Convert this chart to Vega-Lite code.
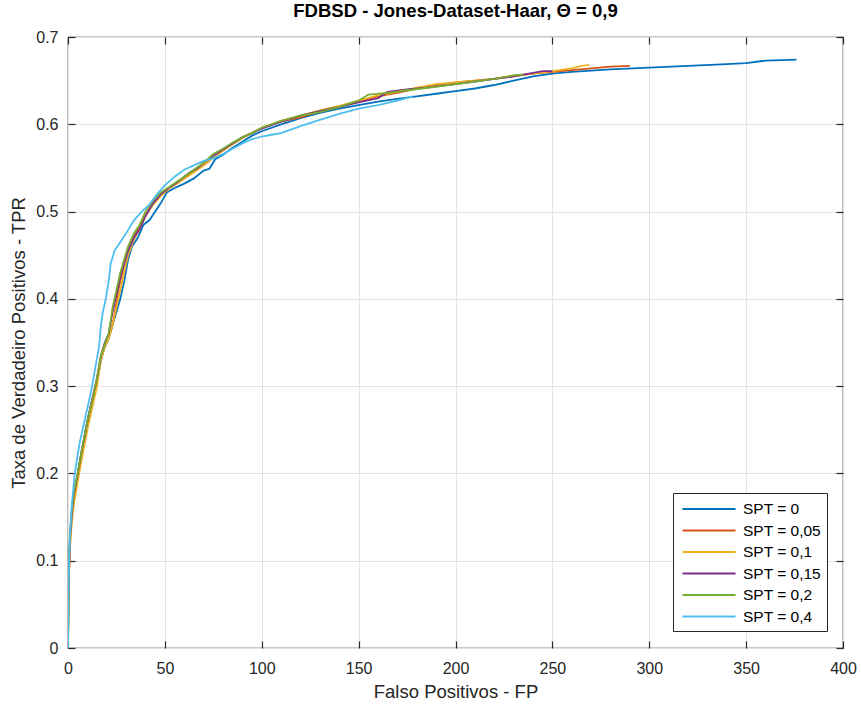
{
  "$schema": "https://vega.github.io/schema/vega-lite/v6.json",
  "width": 775,
  "height": 611,
  "autosize": "none",
  "padding": {"left": 68, "top": 37, "right": 18, "bottom": 56},
  "background": "white",
  "title": {"text": "FDBSD - Jones-Dataset-Haar, Θ = 0,9", "font": "Liberation Sans", "fontSize": 18.5, "fontWeight": "bold", "color": "#000000", "anchor": "middle", "offset": 9},
  "config": {
    "view": {"stroke": "#262626", "strokeWidth": 1.2},
    "axis": {"domain": false, "tickColor": "#262626", "tickWidth": 1.2, "labelColor": "#262626", "titleColor": "#262626", "gridColor": "#e3e3e3", "gridWidth": 1, "labelFont": "Liberation Sans", "titleFont": "Liberation Sans", "labelFontSize": 16, "titleFontSize": 18.5, "titleFontWeight": "normal", "labelOverlap": false, "labelFlush": false}
  },
  "data": {"values": [
    {"s":"SPT = 0","fp":0,"tpr":0},{"s":"SPT = 0","fp":0.3,"tpr":0.07},{"s":"SPT = 0","fp":1,"tpr":0.125},{"s":"SPT = 0","fp":2,"tpr":0.155},{"s":"SPT = 0","fp":3,"tpr":0.175},{"s":"SPT = 0","fp":5,"tpr":0.198},{"s":"SPT = 0","fp":7,"tpr":0.225},{"s":"SPT = 0","fp":10,"tpr":0.26},{"s":"SPT = 0","fp":12,"tpr":0.28},{"s":"SPT = 0","fp":15,"tpr":0.305},{"s":"SPT = 0","fp":17,"tpr":0.33},{"s":"SPT = 0","fp":19,"tpr":0.345},{"s":"SPT = 0","fp":21,"tpr":0.355},{"s":"SPT = 0","fp":23,"tpr":0.37},{"s":"SPT = 0","fp":25,"tpr":0.385},{"s":"SPT = 0","fp":27,"tpr":0.4},{"s":"SPT = 0","fp":29,"tpr":0.42},{"s":"SPT = 0","fp":31,"tpr":0.445},{"s":"SPT = 0","fp":33,"tpr":0.46},{"s":"SPT = 0","fp":36,"tpr":0.47},{"s":"SPT = 0","fp":39,"tpr":0.485},{"s":"SPT = 0","fp":42,"tpr":0.49},{"s":"SPT = 0","fp":45,"tpr":0.5},{"s":"SPT = 0","fp":48,"tpr":0.51},{"s":"SPT = 0","fp":51,"tpr":0.522},{"s":"SPT = 0","fp":55,"tpr":0.527},{"s":"SPT = 0","fp":60,"tpr":0.532},{"s":"SPT = 0","fp":65,"tpr":0.538},{"s":"SPT = 0","fp":70,"tpr":0.547},{"s":"SPT = 0","fp":73,"tpr":0.549},{"s":"SPT = 0","fp":76,"tpr":0.56},{"s":"SPT = 0","fp":80,"tpr":0.565},{"s":"SPT = 0","fp":85,"tpr":0.573},{"s":"SPT = 0","fp":90,"tpr":0.58},{"s":"SPT = 0","fp":95,"tpr":0.587},{"s":"SPT = 0","fp":100,"tpr":0.592},{"s":"SPT = 0","fp":110,"tpr":0.6},{"s":"SPT = 0","fp":120,"tpr":0.607},{"s":"SPT = 0","fp":130,"tpr":0.613},{"s":"SPT = 0","fp":140,"tpr":0.618},{"s":"SPT = 0","fp":150,"tpr":0.622},{"s":"SPT = 0","fp":160,"tpr":0.626},{"s":"SPT = 0","fp":170,"tpr":0.629},{"s":"SPT = 0","fp":180,"tpr":0.632},{"s":"SPT = 0","fp":190,"tpr":0.635},{"s":"SPT = 0","fp":200,"tpr":0.638},{"s":"SPT = 0","fp":210,"tpr":0.641},{"s":"SPT = 0","fp":220,"tpr":0.645},{"s":"SPT = 0","fp":230,"tpr":0.65},{"s":"SPT = 0","fp":240,"tpr":0.655},{"s":"SPT = 0","fp":250,"tpr":0.658},{"s":"SPT = 0","fp":260,"tpr":0.66},{"s":"SPT = 0","fp":280,"tpr":0.663},{"s":"SPT = 0","fp":300,"tpr":0.665},{"s":"SPT = 0","fp":320,"tpr":0.667},{"s":"SPT = 0","fp":340,"tpr":0.669},{"s":"SPT = 0","fp":350,"tpr":0.67},{"s":"SPT = 0","fp":360,"tpr":0.673},{"s":"SPT = 0","fp":376,"tpr":0.674},

    {"s":"SPT = 0,05","fp":0,"tpr":0},{"s":"SPT = 0,05","fp":0.3,"tpr":0.07},{"s":"SPT = 0,05","fp":1,"tpr":0.12},{"s":"SPT = 0,05","fp":2,"tpr":0.15},{"s":"SPT = 0,05","fp":3,"tpr":0.17},{"s":"SPT = 0,05","fp":5,"tpr":0.195},{"s":"SPT = 0,05","fp":7,"tpr":0.22},{"s":"SPT = 0,05","fp":10,"tpr":0.255},{"s":"SPT = 0,05","fp":13,"tpr":0.285},{"s":"SPT = 0,05","fp":15,"tpr":0.305},{"s":"SPT = 0,05","fp":17,"tpr":0.335},{"s":"SPT = 0,05","fp":19,"tpr":0.345},{"s":"SPT = 0,05","fp":21,"tpr":0.355},{"s":"SPT = 0,05","fp":23,"tpr":0.37},{"s":"SPT = 0,05","fp":25,"tpr":0.395},{"s":"SPT = 0,05","fp":26,"tpr":0.41},{"s":"SPT = 0,05","fp":28,"tpr":0.43},{"s":"SPT = 0,05","fp":30,"tpr":0.45},{"s":"SPT = 0,05","fp":33,"tpr":0.465},{"s":"SPT = 0,05","fp":36,"tpr":0.48},{"s":"SPT = 0,05","fp":40,"tpr":0.495},{"s":"SPT = 0,05","fp":44,"tpr":0.51},{"s":"SPT = 0,05","fp":48,"tpr":0.52},{"s":"SPT = 0,05","fp":52,"tpr":0.527},{"s":"SPT = 0,05","fp":56,"tpr":0.532},{"s":"SPT = 0,05","fp":60,"tpr":0.538},{"s":"SPT = 0,05","fp":65,"tpr":0.546},{"s":"SPT = 0,05","fp":70,"tpr":0.553},{"s":"SPT = 0,05","fp":75,"tpr":0.562},{"s":"SPT = 0,05","fp":80,"tpr":0.57},{"s":"SPT = 0,05","fp":85,"tpr":0.578},{"s":"SPT = 0,05","fp":90,"tpr":0.585},{"s":"SPT = 0,05","fp":95,"tpr":0.59},{"s":"SPT = 0,05","fp":100,"tpr":0.596},{"s":"SPT = 0,05","fp":110,"tpr":0.603},{"s":"SPT = 0,05","fp":120,"tpr":0.608},{"s":"SPT = 0,05","fp":130,"tpr":0.615},{"s":"SPT = 0,05","fp":140,"tpr":0.62},{"s":"SPT = 0,05","fp":150,"tpr":0.626},{"s":"SPT = 0,05","fp":160,"tpr":0.632},{"s":"SPT = 0,05","fp":170,"tpr":0.636},{"s":"SPT = 0,05","fp":180,"tpr":0.641},{"s":"SPT = 0,05","fp":190,"tpr":0.645},{"s":"SPT = 0,05","fp":200,"tpr":0.648},{"s":"SPT = 0,05","fp":210,"tpr":0.65},{"s":"SPT = 0,05","fp":220,"tpr":0.652},{"s":"SPT = 0,05","fp":230,"tpr":0.655},{"s":"SPT = 0,05","fp":240,"tpr":0.658},{"s":"SPT = 0,05","fp":250,"tpr":0.66},{"s":"SPT = 0,05","fp":260,"tpr":0.662},{"s":"SPT = 0,05","fp":270,"tpr":0.664},{"s":"SPT = 0,05","fp":280,"tpr":0.666},{"s":"SPT = 0,05","fp":290,"tpr":0.667},

    {"s":"SPT = 0,1","fp":0,"tpr":0},{"s":"SPT = 0,1","fp":0.3,"tpr":0.065},{"s":"SPT = 0,1","fp":1,"tpr":0.115},{"s":"SPT = 0,1","fp":2,"tpr":0.145},{"s":"SPT = 0,1","fp":3,"tpr":0.165},{"s":"SPT = 0,1","fp":5,"tpr":0.19},{"s":"SPT = 0,1","fp":7,"tpr":0.215},{"s":"SPT = 0,1","fp":10,"tpr":0.25},{"s":"SPT = 0,1","fp":13,"tpr":0.28},{"s":"SPT = 0,1","fp":15,"tpr":0.3},{"s":"SPT = 0,1","fp":17,"tpr":0.33},{"s":"SPT = 0,1","fp":19,"tpr":0.345},{"s":"SPT = 0,1","fp":21,"tpr":0.355},{"s":"SPT = 0,1","fp":23,"tpr":0.37},{"s":"SPT = 0,1","fp":25,"tpr":0.39},{"s":"SPT = 0,1","fp":27,"tpr":0.41},{"s":"SPT = 0,1","fp":29,"tpr":0.43},{"s":"SPT = 0,1","fp":31,"tpr":0.45},{"s":"SPT = 0,1","fp":34,"tpr":0.468},{"s":"SPT = 0,1","fp":37,"tpr":0.48},{"s":"SPT = 0,1","fp":40,"tpr":0.495},{"s":"SPT = 0,1","fp":44,"tpr":0.508},{"s":"SPT = 0,1","fp":48,"tpr":0.518},{"s":"SPT = 0,1","fp":52,"tpr":0.526},{"s":"SPT = 0,1","fp":56,"tpr":0.532},{"s":"SPT = 0,1","fp":60,"tpr":0.538},{"s":"SPT = 0,1","fp":65,"tpr":0.545},{"s":"SPT = 0,1","fp":70,"tpr":0.553},{"s":"SPT = 0,1","fp":75,"tpr":0.562},{"s":"SPT = 0,1","fp":80,"tpr":0.57},{"s":"SPT = 0,1","fp":85,"tpr":0.577},{"s":"SPT = 0,1","fp":90,"tpr":0.584},{"s":"SPT = 0,1","fp":95,"tpr":0.59},{"s":"SPT = 0,1","fp":100,"tpr":0.596},{"s":"SPT = 0,1","fp":110,"tpr":0.604},{"s":"SPT = 0,1","fp":120,"tpr":0.61},{"s":"SPT = 0,1","fp":130,"tpr":0.616},{"s":"SPT = 0,1","fp":140,"tpr":0.621},{"s":"SPT = 0,1","fp":150,"tpr":0.627},{"s":"SPT = 0,1","fp":160,"tpr":0.633},{"s":"SPT = 0,1","fp":170,"tpr":0.637},{"s":"SPT = 0,1","fp":180,"tpr":0.642},{"s":"SPT = 0,1","fp":190,"tpr":0.646},{"s":"SPT = 0,1","fp":200,"tpr":0.648},{"s":"SPT = 0,1","fp":210,"tpr":0.65},{"s":"SPT = 0,1","fp":220,"tpr":0.652},{"s":"SPT = 0,1","fp":230,"tpr":0.656},{"s":"SPT = 0,1","fp":240,"tpr":0.658},{"s":"SPT = 0,1","fp":250,"tpr":0.661},{"s":"SPT = 0,1","fp":260,"tpr":0.664},{"s":"SPT = 0,1","fp":265,"tpr":0.667},{"s":"SPT = 0,1","fp":269,"tpr":0.668},

    {"s":"SPT = 0,15","fp":0,"tpr":0},{"s":"SPT = 0,15","fp":0.3,"tpr":0.07},{"s":"SPT = 0,15","fp":1,"tpr":0.125},{"s":"SPT = 0,15","fp":2,"tpr":0.155},{"s":"SPT = 0,15","fp":3,"tpr":0.175},{"s":"SPT = 0,15","fp":5,"tpr":0.2},{"s":"SPT = 0,15","fp":7,"tpr":0.225},{"s":"SPT = 0,15","fp":10,"tpr":0.26},{"s":"SPT = 0,15","fp":13,"tpr":0.29},{"s":"SPT = 0,15","fp":15,"tpr":0.31},{"s":"SPT = 0,15","fp":17,"tpr":0.335},{"s":"SPT = 0,15","fp":19,"tpr":0.35},{"s":"SPT = 0,15","fp":21,"tpr":0.36},{"s":"SPT = 0,15","fp":23,"tpr":0.385},{"s":"SPT = 0,15","fp":25,"tpr":0.405},{"s":"SPT = 0,15","fp":27,"tpr":0.425},{"s":"SPT = 0,15","fp":29,"tpr":0.44},{"s":"SPT = 0,15","fp":31,"tpr":0.455},{"s":"SPT = 0,15","fp":34,"tpr":0.47},{"s":"SPT = 0,15","fp":37,"tpr":0.48},{"s":"SPT = 0,15","fp":40,"tpr":0.495},{"s":"SPT = 0,15","fp":44,"tpr":0.51},{"s":"SPT = 0,15","fp":48,"tpr":0.52},{"s":"SPT = 0,15","fp":52,"tpr":0.527},{"s":"SPT = 0,15","fp":56,"tpr":0.533},{"s":"SPT = 0,15","fp":60,"tpr":0.54},{"s":"SPT = 0,15","fp":63,"tpr":0.545},{"s":"SPT = 0,15","fp":67,"tpr":0.55},{"s":"SPT = 0,15","fp":70,"tpr":0.556},{"s":"SPT = 0,15","fp":75,"tpr":0.564},{"s":"SPT = 0,15","fp":80,"tpr":0.571},{"s":"SPT = 0,15","fp":85,"tpr":0.578},{"s":"SPT = 0,15","fp":90,"tpr":0.585},{"s":"SPT = 0,15","fp":95,"tpr":0.59},{"s":"SPT = 0,15","fp":100,"tpr":0.595},{"s":"SPT = 0,15","fp":110,"tpr":0.603},{"s":"SPT = 0,15","fp":120,"tpr":0.61},{"s":"SPT = 0,15","fp":130,"tpr":0.615},{"s":"SPT = 0,15","fp":140,"tpr":0.62},{"s":"SPT = 0,15","fp":150,"tpr":0.625},{"s":"SPT = 0,15","fp":160,"tpr":0.63},{"s":"SPT = 0,15","fp":165,"tpr":0.637},{"s":"SPT = 0,15","fp":175,"tpr":0.64},{"s":"SPT = 0,15","fp":185,"tpr":0.642},{"s":"SPT = 0,15","fp":200,"tpr":0.646},{"s":"SPT = 0,15","fp":210,"tpr":0.649},{"s":"SPT = 0,15","fp":220,"tpr":0.652},{"s":"SPT = 0,15","fp":230,"tpr":0.655},{"s":"SPT = 0,15","fp":240,"tpr":0.659},{"s":"SPT = 0,15","fp":245,"tpr":0.661},{"s":"SPT = 0,15","fp":250,"tpr":0.661},

    {"s":"SPT = 0,2","fp":0,"tpr":0},{"s":"SPT = 0,2","fp":0.3,"tpr":0.075},{"s":"SPT = 0,2","fp":1,"tpr":0.13},{"s":"SPT = 0,2","fp":2,"tpr":0.16},{"s":"SPT = 0,2","fp":3,"tpr":0.178},{"s":"SPT = 0,2","fp":5,"tpr":0.2},{"s":"SPT = 0,2","fp":7,"tpr":0.225},{"s":"SPT = 0,2","fp":10,"tpr":0.26},{"s":"SPT = 0,2","fp":13,"tpr":0.288},{"s":"SPT = 0,2","fp":15,"tpr":0.31},{"s":"SPT = 0,2","fp":17,"tpr":0.335},{"s":"SPT = 0,2","fp":19,"tpr":0.348},{"s":"SPT = 0,2","fp":21,"tpr":0.36},{"s":"SPT = 0,2","fp":23,"tpr":0.39},{"s":"SPT = 0,2","fp":25,"tpr":0.41},{"s":"SPT = 0,2","fp":27,"tpr":0.43},{"s":"SPT = 0,2","fp":29,"tpr":0.445},{"s":"SPT = 0,2","fp":31,"tpr":0.46},{"s":"SPT = 0,2","fp":34,"tpr":0.475},{"s":"SPT = 0,2","fp":37,"tpr":0.485},{"s":"SPT = 0,2","fp":40,"tpr":0.5},{"s":"SPT = 0,2","fp":44,"tpr":0.513},{"s":"SPT = 0,2","fp":48,"tpr":0.522},{"s":"SPT = 0,2","fp":52,"tpr":0.528},{"s":"SPT = 0,2","fp":56,"tpr":0.534},{"s":"SPT = 0,2","fp":60,"tpr":0.54},{"s":"SPT = 0,2","fp":65,"tpr":0.548},{"s":"SPT = 0,2","fp":70,"tpr":0.556},{"s":"SPT = 0,2","fp":75,"tpr":0.566},{"s":"SPT = 0,2","fp":80,"tpr":0.572},{"s":"SPT = 0,2","fp":85,"tpr":0.579},{"s":"SPT = 0,2","fp":90,"tpr":0.585},{"s":"SPT = 0,2","fp":95,"tpr":0.59},{"s":"SPT = 0,2","fp":100,"tpr":0.596},{"s":"SPT = 0,2","fp":110,"tpr":0.604},{"s":"SPT = 0,2","fp":120,"tpr":0.61},{"s":"SPT = 0,2","fp":130,"tpr":0.614},{"s":"SPT = 0,2","fp":140,"tpr":0.62},{"s":"SPT = 0,2","fp":150,"tpr":0.627},{"s":"SPT = 0,2","fp":155,"tpr":0.634},{"s":"SPT = 0,2","fp":165,"tpr":0.636},{"s":"SPT = 0,2","fp":175,"tpr":0.639},{"s":"SPT = 0,2","fp":190,"tpr":0.643},{"s":"SPT = 0,2","fp":200,"tpr":0.646},{"s":"SPT = 0,2","fp":210,"tpr":0.649},{"s":"SPT = 0,2","fp":220,"tpr":0.652},{"s":"SPT = 0,2","fp":230,"tpr":0.656},{"s":"SPT = 0,2","fp":235,"tpr":0.657},

    {"s":"SPT = 0,4","fp":0,"tpr":0},{"s":"SPT = 0,4","fp":0.3,"tpr":0.08},{"s":"SPT = 0,4","fp":1,"tpr":0.13},{"s":"SPT = 0,4","fp":2,"tpr":0.165},{"s":"SPT = 0,4","fp":3.5,"tpr":0.2},{"s":"SPT = 0,4","fp":6,"tpr":0.235},{"s":"SPT = 0,4","fp":9,"tpr":0.265},{"s":"SPT = 0,4","fp":12,"tpr":0.295},{"s":"SPT = 0,4","fp":14,"tpr":0.32},{"s":"SPT = 0,4","fp":16,"tpr":0.345},{"s":"SPT = 0,4","fp":17,"tpr":0.37},{"s":"SPT = 0,4","fp":18,"tpr":0.385},{"s":"SPT = 0,4","fp":19.5,"tpr":0.4},{"s":"SPT = 0,4","fp":21,"tpr":0.42},{"s":"SPT = 0,4","fp":22,"tpr":0.44},{"s":"SPT = 0,4","fp":24,"tpr":0.455},{"s":"SPT = 0,4","fp":27,"tpr":0.465},{"s":"SPT = 0,4","fp":30,"tpr":0.475},{"s":"SPT = 0,4","fp":34,"tpr":0.49},{"s":"SPT = 0,4","fp":38,"tpr":0.5},{"s":"SPT = 0,4","fp":42,"tpr":0.508},{"s":"SPT = 0,4","fp":46,"tpr":0.52},{"s":"SPT = 0,4","fp":50,"tpr":0.53},{"s":"SPT = 0,4","fp":55,"tpr":0.54},{"s":"SPT = 0,4","fp":60,"tpr":0.548},{"s":"SPT = 0,4","fp":65,"tpr":0.553},{"s":"SPT = 0,4","fp":70,"tpr":0.558},{"s":"SPT = 0,4","fp":75,"tpr":0.561},{"s":"SPT = 0,4","fp":80,"tpr":0.566},{"s":"SPT = 0,4","fp":85,"tpr":0.572},{"s":"SPT = 0,4","fp":90,"tpr":0.578},{"s":"SPT = 0,4","fp":95,"tpr":0.583},{"s":"SPT = 0,4","fp":100,"tpr":0.586},{"s":"SPT = 0,4","fp":105,"tpr":0.588},{"s":"SPT = 0,4","fp":110,"tpr":0.59},{"s":"SPT = 0,4","fp":120,"tpr":0.598},{"s":"SPT = 0,4","fp":130,"tpr":0.605},{"s":"SPT = 0,4","fp":140,"tpr":0.612},{"s":"SPT = 0,4","fp":150,"tpr":0.618},{"s":"SPT = 0,4","fp":160,"tpr":0.622},{"s":"SPT = 0,4","fp":170,"tpr":0.627},{"s":"SPT = 0,4","fp":178,"tpr":0.632}
  ]},
  "layer": [
    {
      "mark": {"type": "line", "strokeWidth": 1.8, "clip": true},
      "encoding": {
        "x": {"field": "fp", "type": "quantitative", "scale": {"domain": [0, 400], "nice": false}, "axis": {"orient": "bottom", "title": "Falso Positivos - FP", "values": [0,50,100,150,200,250,300,350,400], "ticks": false, "labelPadding": 12, "titlePadding": 6}},
        "y": {"field": "tpr", "type": "quantitative", "scale": {"domain": [0, 0.7], "nice": false}, "axis": {"orient": "left", "title": "Taxa de Verdadeiro Positivos - TPR", "values": [0,0.1,0.2,0.3,0.4,0.5,0.6,0.7], "format": "~g", "ticks": false, "labelPadding": 10, "titlePadding": 7}},
        "color": {"field": "s", "type": "nominal", "sort": null,
          "scale": {"domain": ["SPT = 0","SPT = 0,05","SPT = 0,1","SPT = 0,15","SPT = 0,2","SPT = 0,4"], "range": ["#0072BD","#D95319","#EDB120","#7E2F8E","#77AC30","#4DBEEE"]},
          "legend": {"title": null, "orient": "none", "legendX": 605, "legendY": 456, "symbolType": "M-2.95,0H2.95", "symbolSize": 324, "symbolStrokeWidth": 2, "symbolOffset": 20, "labelOffset": 24, "labelFont": "Liberation Sans", "labelFontSize": 15.5, "labelColor": "#000000", "strokeColor": "#262626", "fillColor": "white", "padding": 6, "rowPadding": 2.5}
        }
      }
    },
    {
      "mark": {"type": "line", "strokeOpacity": 0},
      "encoding": {
        "x": {"field": "fp", "type": "quantitative", "scale": {"domain": [0, 400], "nice": false}, "axis": {"orient": "top", "offset": -611, "title": null, "labels": false, "grid": false, "tickSize": 7, "values": [0,50,100,150,200,250,300,350,400]}},
        "y": {"field": "tpr", "type": "quantitative", "scale": {"domain": [0, 0.7], "nice": false}, "axis": {"orient": "right", "offset": -775, "title": null, "labels": false, "grid": false, "tickSize": 7, "values": [0,0.1,0.2,0.3,0.4,0.5,0.6,0.7]}}
      }
    },
    {
      "mark": {"type": "line", "strokeOpacity": 0},
      "encoding": {
        "x": {"field": "fp", "type": "quantitative", "scale": {"domain": [0, 400], "nice": false}, "axis": {"orient": "bottom", "offset": -611, "title": null, "labels": false, "grid": false, "tickSize": 7, "values": [0,50,100,150,200,250,300,350,400]}},
        "y": {"field": "tpr", "type": "quantitative", "scale": {"domain": [0, 0.7], "nice": false}, "axis": {"orient": "left", "offset": -775, "title": null, "labels": false, "grid": false, "tickSize": 7, "values": [0,0.1,0.2,0.3,0.4,0.5,0.6,0.7]}}
      }
    }
  ],
  "resolve": {"axis": {"x": "independent", "y": "independent"}}
}
